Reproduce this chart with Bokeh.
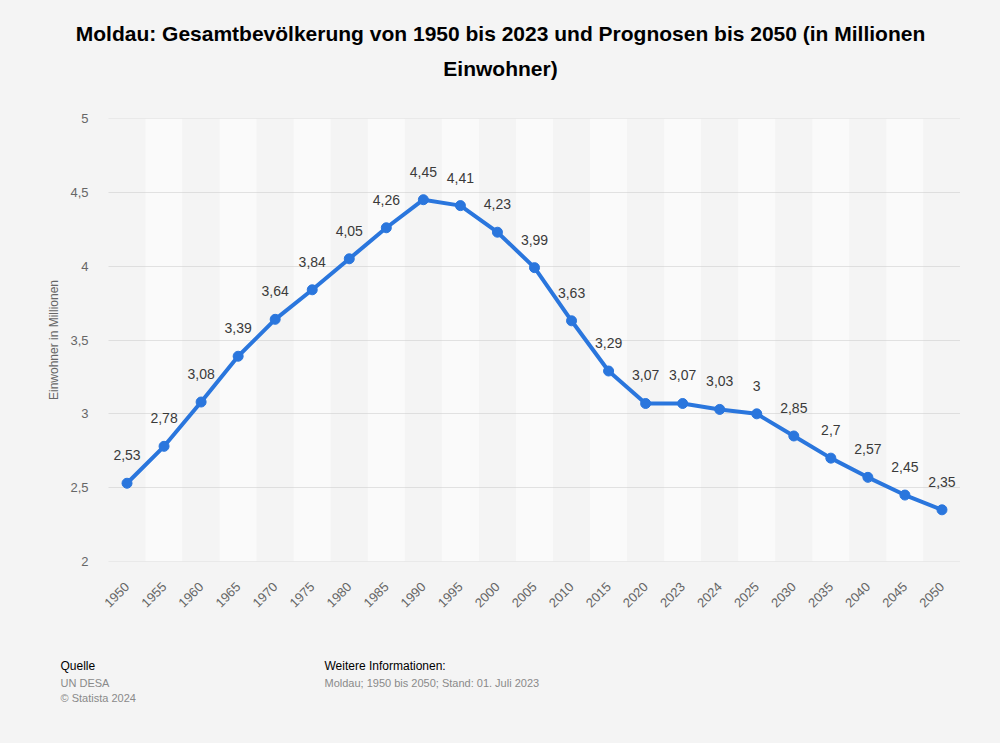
from bokeh.plotting import figure
from bokeh.layouts import column
from bokeh.models import (FactorRange, FixedTicker, CustomJSTickFormatter, Label,
                          ColumnDataSource, Range1d)
from bokeh.embed import file_html
from bokeh.resources import INLINE
from bokeh.core.properties import value
import math

years = ["1950", "1955", "1960", "1965", "1970", "1975", "1980", "1985", "1990",
         "1995", "2000", "2005", "2010", "2015", "2020", "2023", "2024", "2025",
         "2030", "2035", "2040", "2045", "2050"]
population = [2.53, 2.78, 3.08, 3.39, 3.64, 3.84, 4.05, 4.26, 4.45, 4.41, 4.23, 3.99,
              3.63, 3.29, 3.07, 3.07, 3.03, 3.0, 2.85, 2.7, 2.57, 2.45, 2.35]
y_ticks = [2, 2.5, 3, 3.5, 4, 4.5, 5]

title_lines = ["Moldau: Gesamtbevölkerung von 1950 bis 2023 und Prognosen bis 2050 (in Millionen",
               "Einwohner)"]
y_label = "Einwohner in Millionen"
source_lines = ["Quelle", "UN DESA", "© Statista 2024"]
info_lines = ["Weitere Informationen:", "Moldau; 1950 bis 2050; Stand: 01. Juli 2023"]

FONT = "Liberation Sans"
BG = "#f4f4f4"
W = 1000
H_HEAD = 98
H_MAIN = 533
H_FOOT = 743 - H_HEAD - H_MAIN
LINE_C = "#2a76dd"


def blank_fig(h):
    f = figure(width=W, height=h, output_backend="svg", toolbar_location=None,
               x_range=Range1d(0, W), y_range=Range1d(h, 0),
               x_axis_type=None, y_axis_type=None,
               min_border_left=0, min_border_right=0, min_border_top=0, min_border_bottom=0,
               background_fill_color=BG, border_fill_color=BG, outline_line_color=None)
    f.xgrid.visible = False
    f.ygrid.visible = False
    if "frame_align" in f.properties():
        f.frame_align = False
    return f


def lab(f, text, x, y, size, color, style="normal", align="left"):
    f.add_layout(Label(x=x, y=y, text=text, text_font=FONT, text_font_size=size,
                       text_color=color, text_font_style=style, text_align=align,
                       text_baseline="middle"))


# header
head = blank_fig(H_HEAD)
lab(head, title_lines[0], W / 2, 33, "21px", "#000000", "bold", "center")
lab(head, title_lines[1], W / 2, 68, "21px", "#000000", "bold", "center")

# main chart
p = figure(width=W, height=H_MAIN, output_backend="svg", toolbar_location=None,
           x_range=FactorRange(*years, range_padding=0), y_range=Range1d(2, 5),
           min_border_left=108, min_border_right=40, min_border_top=20, min_border_bottom=70,
           background_fill_color=BG, border_fill_color=BG, outline_line_color=None)
if "frame_align" in p.properties():
    p.frame_align = False

band_colors = [BG if i % 2 == 0 else "#fafafa" for i in range(len(years))]
p.vbar(x=years, top=5, bottom=2, width=1.0, fill_color=band_colors, line_color=None)
p.hspan(y=y_ticks, line_color="#c8c8c8", line_dash="1 1", line_width=1)

p.xgrid.visible = False
p.ygrid.visible = False

p.yaxis.ticker = FixedTicker(ticks=y_ticks)
p.yaxis.formatter = CustomJSTickFormatter(code="return tick.toString().replace('.', ',');")
for ax in (p.xaxis[0], p.yaxis[0]):
    ax.axis_line_color = None
    ax.major_tick_line_color = None
    ax.minor_tick_line_color = None
    ax.major_tick_out = 0
    ax.major_tick_in = 0
    ax.minor_tick_out = 0
    ax.major_label_text_font = FONT
    ax.major_label_text_font_size = "13px"
    ax.major_label_text_color = "#666666"
p.yaxis.major_label_standoff = 20
p.yaxis.axis_label = y_label
p.yaxis.axis_label_text_font = FONT
p.yaxis.axis_label_text_font_size = "12px"
p.yaxis.axis_label_text_font_style = "normal"
p.yaxis.axis_label_text_color = "#666666"
p.yaxis.axis_label_standoff = 6
p.xaxis.major_label_orientation = math.pi / 4
p.xaxis.major_label_standoff = 23

src = ColumnDataSource(dict(x=years, y=population,
                            lab=[("%g" % v).replace(".", ",") for v in population]))
p.line("x", "y", source=src, line_color=LINE_C, line_width=4)
p.scatter("x", "y", source=src, size=10, fill_color=LINE_C, line_color=LINE_C)
p.text("x", "y", text="lab", source=src, y_offset=-23, text_align="center",
       text_baseline="bottom", text_font=value(FONT), text_font_size="14px",
       text_color="#3a3a3a")

# footer (top of footer = page y 631)
foot = blank_fig(H_FOOT)
y0 = H_HEAD + H_MAIN
lab(foot, source_lines[0], 60, 665 - y0, "12px", "#000000")
lab(foot, source_lines[1], 60, 682 - y0, "11px", "#8a8a8a")
lab(foot, source_lines[2], 60, 697 - y0, "11px", "#8a8a8a")
lab(foot, info_lines[0], 324, 665 - y0, "12px", "#000000")
lab(foot, info_lines[1], 324, 682 - y0, "11px", "#8a8a8a")

layout = column(head, p, foot, spacing=0, styles={"background-color": BG})
open("out.html", "w").write(file_html(layout, INLINE))
